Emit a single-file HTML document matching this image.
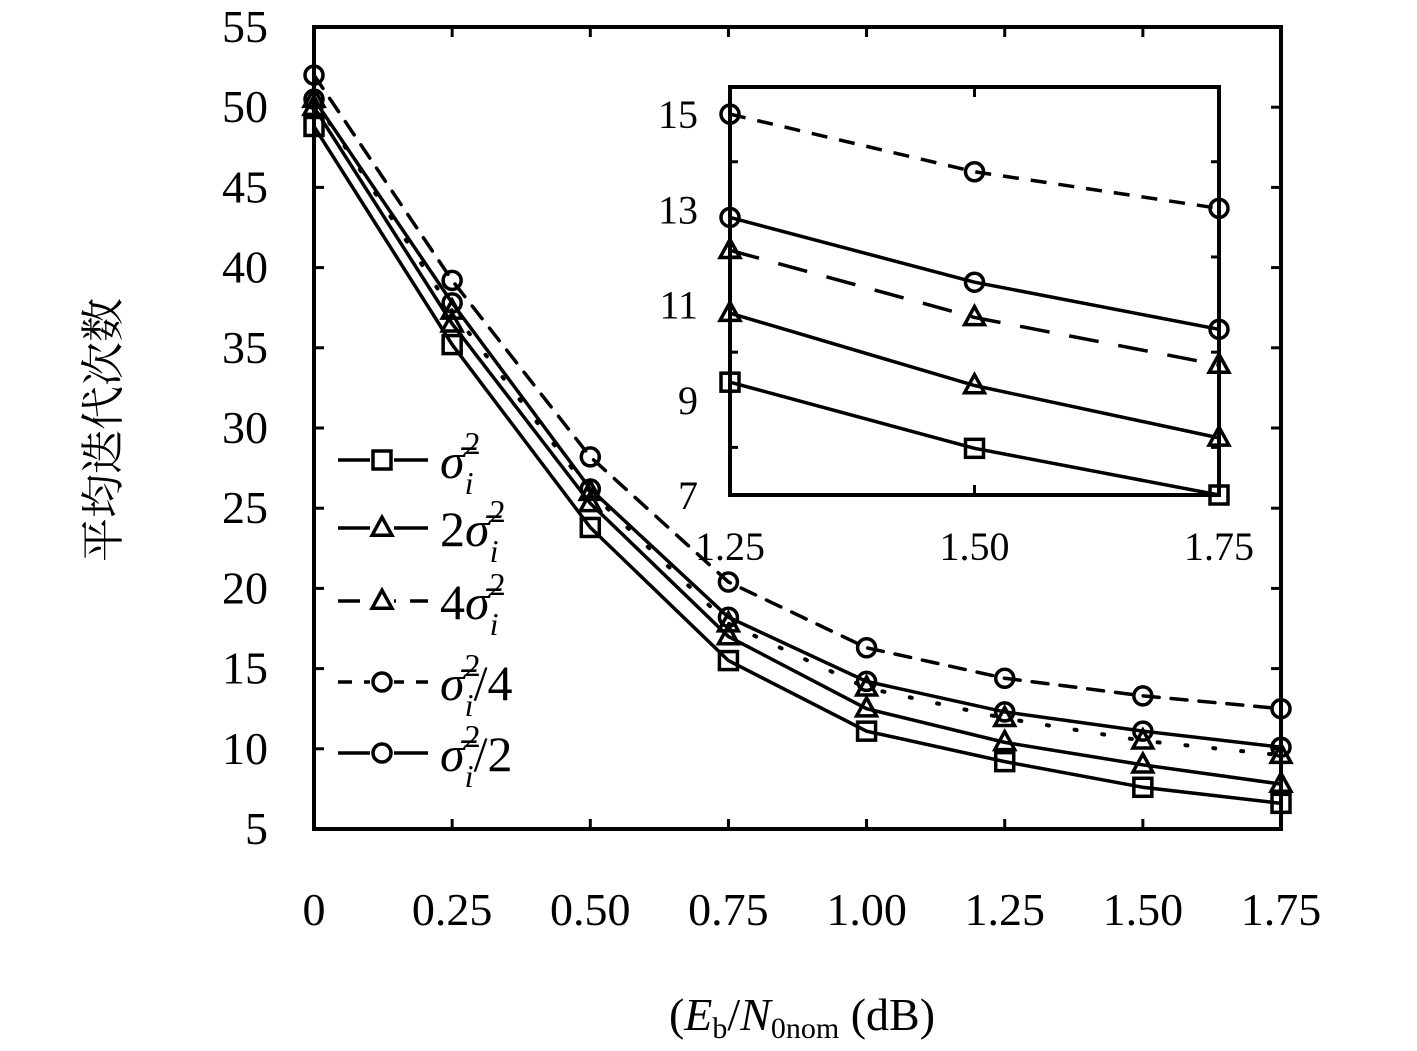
<!DOCTYPE html>
<html><head><meta charset="utf-8"><style>
html,body{margin:0;padding:0;background:#fff;}
svg{display:block;font-family:"Liberation Serif","Noto Serif CJK SC",serif;}
</style></head><body>
<svg id="chart" width="1417" height="1051" viewBox="0 0 1417 1051" xmlns="http://www.w3.org/2000/svg">
<g id="main"></g>
<g id="inset"></g>
<g id="legend"></g>
<text x="118" y="430" font-size="44" text-anchor="middle" transform="rotate(-90 118 430)" font-family="Noto Serif CJK SC, serif">平均迭代次数</text>
<text x="802" y="1030" font-size="46" text-anchor="middle">(<tspan font-style="italic">E</tspan><tspan font-size="30" dy="8">b</tspan><tspan dy="-8">/</tspan><tspan font-style="italic">N</tspan><tspan font-size="30" dy="8">0</tspan><tspan font-size="30">nom</tspan><tspan dy="-8"> (dB)</tspan></text>
</svg>
<script>
const xVals=[0,0.25,0.5,0.75,1.0,1.25,1.5,1.75];
const xTickLabels=["0","0.25","0.50","0.75","1.00","1.25","1.50","1.75"];
const yTickVals=[5,10,15,20,25,30,35,40,45,50,55];
const sSigma=[48.8,35.2,23.8,15.5,11.1,9.2,7.6,6.6];
const s2Sigma=[50.0,36.5,25.3,17.0,12.5,10.4,9.0,7.8];
const s4Sigma=[50.5,37.3,26.0,17.8,13.8,11.9,10.5,9.6];
const sQuarter=[52.0,39.2,28.2,20.4,16.3,14.4,13.3,12.5];
const sHalf=[50.5,37.8,26.2,18.2,14.2,12.3,11.1,10.1];
const insetX=[1.25,1.5,1.75];
const insetXLabels=["1.25","1.50","1.75"];
const insetYTicks=[7,9,11,13,15];
const iSigma=[9.37,7.98,7.0];
const i2Sigma=[10.82,9.3,8.2];
const i4Sigma=[12.14,10.73,9.73];
const iQuarter=[15.0,13.79,13.02];
const iHalf=[12.83,11.47,10.48];

const NS="http://www.w3.org/2000/svg";
function mk(p,t,a){const e=document.createElementNS(NS,t);for(const k in a)e.setAttribute(k,a[k]);p.appendChild(e);return e;}
function marker(g,type,x,y,r){
  if(type==='sq')return mk(g,'rect',{x:x-r,y:y-r,width:2*r,height:2*r,fill:'none',stroke:'#000','stroke-width':3.5});
  if(type==='tri')return mk(g,'polygon',{points:`${x},${y-r*1.2} ${x-r*1.1},${y+r*0.8} ${x+r*1.1},${y+r*0.8}`,fill:'none',stroke:'#000','stroke-width':3.5});
  return mk(g,'circle',{cx:x,cy:y,r:r,fill:'none',stroke:'#000','stroke-width':3.5});
}
// main axes
const X0=314,X1=1281,Y0=829,Y1=27;
const mx=v=>X0+(v-0)/(1.75)*(X1-X0);
const my=v=>Y0-(v-5)/50*(Y0-Y1);
const gm=document.getElementById('main');
let fr=mk(gm,'rect',{x:X0,y:Y1,width:X1-X0,height:Y0-Y1,fill:'none',stroke:'#000','stroke-width':4});

xVals.forEach((v,i)=>{
  mk(gm,'line',{x1:mx(v),x2:mx(v),y1:Y0,y2:Y0-10,stroke:'#000','stroke-width':3});
  mk(gm,'line',{x1:mx(v),x2:mx(v),y1:Y1,y2:Y1+10,stroke:'#000','stroke-width':3});
  const t=mk(gm,'text',{x:mx(v),y:925,'font-size':46,'text-anchor':'middle'});t.textContent=xTickLabels[i];
  
  
});
yTickVals.forEach(v=>{
  mk(gm,'line',{x1:X0,x2:X0+10,y1:my(v),y2:my(v),stroke:'#000','stroke-width':3});
  mk(gm,'line',{x1:X1,x2:X1-10,y1:my(v),y2:my(v),stroke:'#000','stroke-width':3});
  const t=mk(gm,'text',{x:268,y:my(v)+15,'font-size':46,'text-anchor':'end'});t.textContent=String(v);
  
  
});
const series=[
 {d:sSigma,i:iSigma,m:'sq',dash:null,idash:null,name:'series-sigma'},
 {d:s2Sigma,i:i2Sigma,m:'tri',dash:null,idash:null,name:'series-2sigma'},
 {d:s4Sigma,i:i4Sigma,m:'tri',dash:'2 26',idash:'30 20',name:'series-4sigma'},
 {d:sQuarter,i:iQuarter,m:'circ',dash:'16 12',idash:'16 12',name:'series-sigma-quarter'},
 {d:sHalf,i:iHalf,m:'circ',dash:null,idash:null,name:'series-sigma-half'}];
series.forEach(s=>{
  const g=mk(gm,'g',{});
  
  
  const pts=s.d.map((v,i)=>mx(xVals[i])+','+my(v)).join(' ');
  const a={points:pts,fill:'none',stroke:'#000','stroke-width':s.dash==='2 26'?4:3.5,'stroke-linecap':'round'};
  if(s.dash)a['stroke-dasharray']=s.dash;
  mk(g,'polyline',a);
  s.d.forEach((v,i)=>{const m=marker(g,s.m,mx(xVals[i]),my(v),9);
    
    });
});
// inset
const IX0=730,IX1=1219,IY0=495,IY1=87;
const ix=v=>IX0+(v-1.25)/0.5*(IX1-IX0);
const iy=v=>IY0-(v-7)/(15.57-7)*(IY0-IY1);
const gi=document.getElementById('inset');
mk(gi,'rect',{x:IX0,y:IY1,width:IX1-IX0,height:IY0-IY1,fill:'#fff',stroke:'#000','stroke-width':4});
insetX.forEach((v,i)=>{
  mk(gi,'line',{x1:ix(v),x2:ix(v),y1:IY0,y2:IY0-10,stroke:'#000','stroke-width':3});
  mk(gi,'line',{x1:ix(v),x2:ix(v),y1:IY1,y2:IY1+10,stroke:'#000','stroke-width':3});
  const t=mk(gi,'text',{x:ix(v),y:560,'font-size':40,'text-anchor':'middle'});t.textContent=insetXLabels[i];
  
  
});
insetYTicks.forEach(v=>{
  const t=mk(gi,'text',{x:698,y:iy(v)+14,'font-size':40,'text-anchor':'end'});t.textContent=String(v);
  
  
});
[8,10,12,14].forEach(v=>{
  mk(gi,'line',{x1:IX0,x2:IX0+8,y1:iy(v),y2:iy(v),stroke:'#000','stroke-width':3});
  mk(gi,'line',{x1:IX1,x2:IX1-8,y1:iy(v),y2:iy(v),stroke:'#000','stroke-width':3});
});
series.forEach(s=>{
  const g=mk(gi,'g',{});
  
  
  const pts=s.i.map((v,i)=>ix(insetX[i])+','+iy(v)).join(' ');
  const a={points:pts,fill:'none',stroke:'#000','stroke-width':3.5};
  if(s.idash)a['stroke-dasharray']=s.idash;
  mk(g,'polyline',a);
  s.i.forEach((v,i)=>{const m=marker(g,s.m,ix(insetX[i]),iy(v),9);
    
    });
});
// legend
const gl=document.getElementById('legend');
const legRows=[
 {y:460,m:'sq',dash:null,lab:['','']},
 {y:528,m:'tri',dash:null,lab:['2','']},
 {y:601,m:'tri',dash:'22 14',lab:['4','']},
 {y:682,m:'circ',dash:'14 12',lab:['','/4']},
 {y:753,m:'circ',dash:null,lab:['','/2']}];
legRows.forEach(r=>{
  const g=mk(gl,'g',{});
  
  
  const a={x1:338,x2:428,y1:r.y,y2:r.y,stroke:'#000','stroke-width':3.5};
  if(r.dash)a['stroke-dasharray']=r.dash;
  mk(g,'line',a);
  mk(g,'rect',{x:370,y:r.y-12,width:24,height:24,fill:'#fff',stroke:'none'});
  marker(g,r.m,382,r.y,9);
  const t=mk(g,'text',{x:440,y:r.y+18,'font-size':50});
  t.innerHTML=r.lab[0]+'<tspan font-style="italic">σ̄</tspan><tspan font-size="32" dy="-24">2</tspan><tspan font-size="32" font-style="italic" dx="-16" dy="40">i</tspan><tspan dy="-16">'+r.lab[1]+'</tspan>';
});
</script>
</body></html>
